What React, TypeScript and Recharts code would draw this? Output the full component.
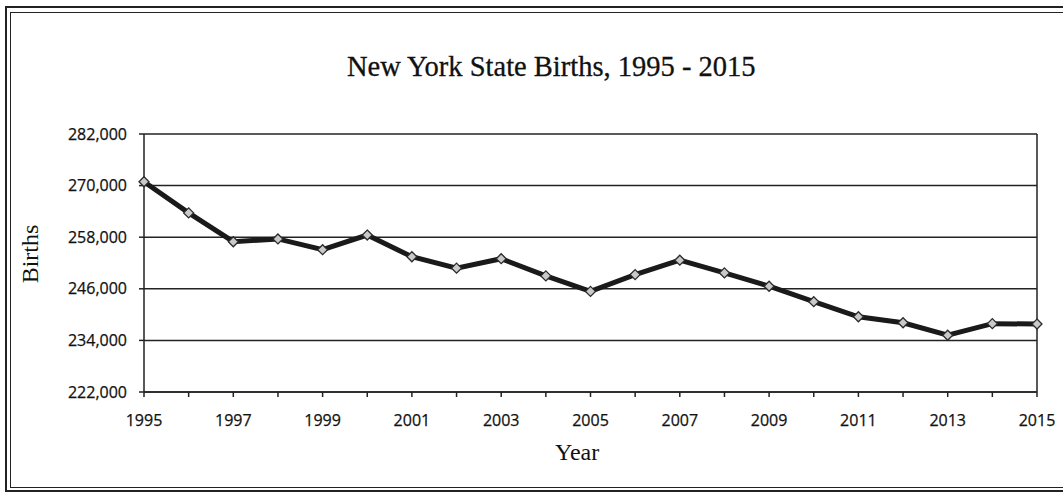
import React from 'react';
import { LineChart, Line, XAxis, YAxis, CartesianGrid, ReferenceLine } from 'recharts';

const years = [
  1995, 1996, 1997, 1998, 1999, 2000, 2001, 2002, 2003, 2004, 2005,
  2006, 2007, 2008, 2009, 2010, 2011, 2012, 2013, 2014, 2015,
];

const births = [
  270900, 263650, 256950, 257600, 255100, 258500, 253450, 250800, 253000, 249000, 245400,
  249300, 252650, 249700, 246600, 243000, 239500, 238100, 235200, 237900, 237800,
];

const yTicks = [222000, 234000, 246000, 258000, 270000, 282000];

const data = years.map((year, i) => ({ year, births: births[i] }));

const tickFont = { fontFamily: 'Open Sans', fontSize: 16, fill: '#111', stroke: '#111', strokeWidth: 0.25 };

const Diamond = (props: any) => {
  const { cx, cy } = props;
  if (cx == null || cy == null) return null;
  const r = 5;
  return (
    <path
      d={`M${cx},${cy - r} L${cx + r},${cy} L${cx},${cy + r} L${cx - r},${cy} Z`}
      fill="#c9c9c9"
      stroke="#2a2a2a"
      strokeWidth={1.3}
    />
  );
};

const App: React.FC = () => {
  return (
    <div style={{ position: 'absolute', left: 0, top: 0, width: 1063, height: 495, overflow: 'hidden', background: '#fff' }}>
      {/* double frame */}
      <div style={{ position: 'absolute', left: 5, top: 6, width: 1100, height: 486, border: '2px solid #222', boxSizing: 'border-box' }} />
      <div style={{ position: 'absolute', left: 10, top: 12, width: 1100, height: 476, border: '1.5px solid #222', boxSizing: 'border-box' }} />

      <div
        style={{
          position: 'absolute', left: 347, top: 49, fontFamily: 'Liberation Serif', fontSize: 28.5,
          color: '#111', lineHeight: '36px', whiteSpace: 'nowrap', WebkitTextStroke: '0.3px #111',
        }}
      >
        New York State Births, 1995 - 2015
      </div>

      <div
        style={{
          position: 'absolute', left: 555, top: 437, fontFamily: 'Liberation Serif',
          fontSize: 24, color: '#111', lineHeight: '30px', whiteSpace: 'nowrap',
        }}
      >
        Year
      </div>

      <div
        style={{
          position: 'absolute', left: 30, top: 254, transform: 'translate(-50%, -50%) rotate(-90deg)',
          fontFamily: 'Liberation Serif', fontSize: 24, color: '#111', lineHeight: '30px', whiteSpace: 'nowrap',
        }}
      >
        Births
      </div>

      <div style={{ position: 'absolute', left: 0, top: 0 }}>
        <LineChart width={1063} height={495} data={data} margin={{ top: 134, right: 26, left: 64, bottom: 73 }}>
          <CartesianGrid vertical={false} stroke="#222" strokeWidth={1.5} />
          <XAxis
            dataKey="year"
            type="number"
            domain={[1995, 2015]}
            ticks={years}
            interval={0}
            height={30}
            tickSize={5}
            tickMargin={18}
            tickFormatter={(v: number) => (v % 2 === 1 ? String(v) : '')}
            tick={tickFont}
            stroke="#222"
            strokeWidth={1.5}
          />
          <YAxis
            type="number"
            domain={[222000, 282000]}
            ticks={yTicks}
            width={80}
            tickSize={5}
            tickMargin={12}
            tickFormatter={(v: number) => v.toLocaleString('en-US')}
            tick={tickFont}
            stroke="#222"
            strokeWidth={1.5}
          />
          <ReferenceLine x={2015} stroke="#222" strokeWidth={1.5} />
          <Line
            type="linear"
            dataKey="births"
            stroke="#1a1a1a"
            strokeWidth={5}
            dot={<Diamond />}
            activeDot={false}
            isAnimationActive={false}
          />
        </LineChart>
      </div>
    </div>
  );
};

export default App;
